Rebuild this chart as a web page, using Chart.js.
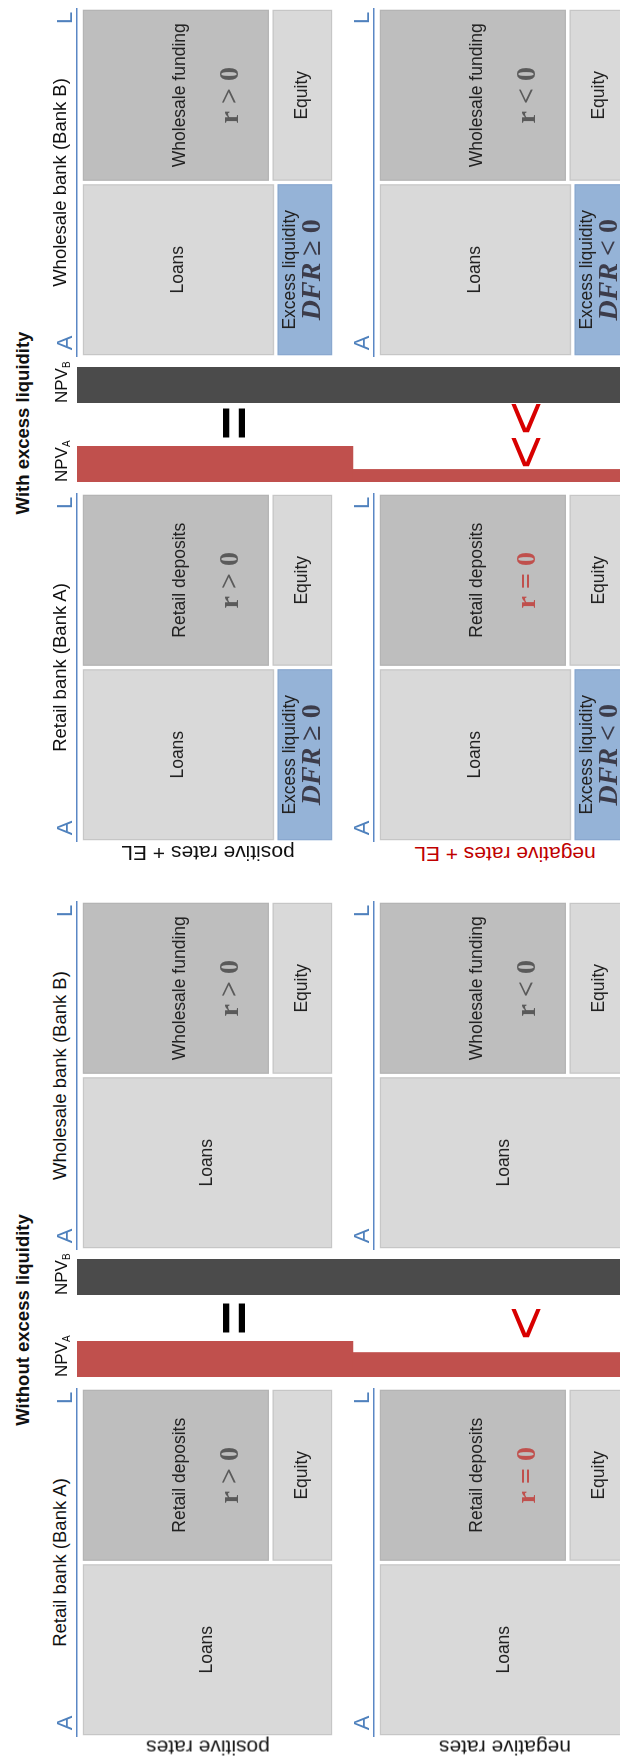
<!DOCTYPE html>
<html lang="en">
<head>
<meta charset="UTF-8">
<title>Bank NPV with and without excess liquidity</title>
<script src="https://cdn.jsdelivr.net/npm/chart.js"></script>
<style>
  html, body { margin: 0; padding: 0; background: #fff; overflow: hidden; }
  body { width: 620px; height: 1763px; position: relative; font-family: "Liberation Sans", Arial, sans-serif; color: #111; }
  /* the figure is laid out landscape and turned a quarter to the left */
  #land { position: absolute; left: 0; top: 0; width: 1763px; height: 640px; transform-origin: 0 0; transform: translateY(1763px) rotate(-90deg); }
  .box { position: absolute; }
  .txt { position: absolute; transform: translate(-50%, -50%); white-space: nowrap; line-height: 1; }
  .txtL { position: absolute; transform: translate(0, -50%); white-space: nowrap; line-height: 1; }
  .title { font-weight: bold; font-size: 18.5px; }
  .bank { font-size: 18.5px; }
  .al { font-size: 22px; color: #4f81bd; }
  .npv { font-size: 17px; }
  .npv sub { font-size: 10px; vertical-align: -3px; }
  .rowlab { font-size: 21px; transform: translate(-50%, -50%) rotate(-90deg); }
  .sign { font-size: 58px; }
</style>
</head>
<body>
<div id="land"></div>

<script>
    // ---- data ----
    const rowNames = ['positive rates', 'negative rates'];
    const rowNamesEL = ['positive rates + EL', 'negative rates + EL'];

    // NPV of bank A (retail) and bank B (wholesale), bar length relative to the positive-rate case
    const npvA_without = [1, 0.68];
    const npvB_without = [1, 1];
    const npvA_with = [1, 0.35];
    const npvB_with = [1, 1];

    // balance sheet shares (% of total)
    const loans_without = [100, 100];
    const loans_with = [77, 77];
    const excessLiquidity = [23, 23];
    const funding = [75, 75];
    const equity = [25, 25];

    const retailRate = ['r > 0', 'r = 0'];
    const wholesaleRate = ['r > 0', 'r < 0'];
    const dfrNote = ['DFR ≥ 0', 'DFR < 0'];
    const signs_without = ['=', '<'];
    const signs_with = ['=', '<<'];

    const colors = {
        loans: '#d9d9d9', equity: '#d9d9d9', funding: '#bebebe', el: '#95b3d7',
        npvA: '#c0504d', npvB: '#4b4b4b', axis: '#5b87c5',
        math: '#5a5a5a', mathRed: '#c0504d', dfr: '#3c3c4a', sign: '#d80000'
    };

    // layout in landscape pixels
    const PAD = 3;
    const rowTop = [77, 374];
    const T_W = 349, T_H = 257;
    const NPV_TOP = 77, NPV_H = 552, NPV_W = 36;
    const signY = [233, 525];

    const panels = [
        { title: 'Without excess liquidity', titleX: 443, withEL: false, rowLabX: 15, rows: rowNames,
          bankA: 26, bankB: 513, npvAX: 386, npvBX: 468, signX: [445, 440],
          npvA: npvA_without, npvB: npvB_without, signs: signs_without },
        { title: 'With excess liquidity', titleX: 1340, withEL: true, rowLabX: 909, rows: rowNamesEL,
          bankA: 921, bankB: 1406, npvAX: 1281, npvBX: 1360, signX: [1340, 1328],
          npvA: npvA_with, npvB: npvB_with, signs: signs_with }
    ];

    const land = document.getElementById('land');

    function addText(cls, html, x, y, color) {
        const d = document.createElement('div');
        d.className = cls;
        d.innerHTML = html;
        d.style.left = x + 'px';
        d.style.top = y + 'px';
        if (color) d.style.color = color;
        land.appendChild(d);
        return d;
    }

    function addCanvas(x, y, w, h) {
        const wrap = document.createElement('div');
        wrap.className = 'box';
        wrap.style.left = x + 'px';
        wrap.style.top = y + 'px';
        wrap.style.width = w + 'px';
        wrap.style.height = h + 'px';
        const c = document.createElement('canvas');
        wrap.appendChild(c);
        land.appendChild(wrap);
        return c;
    }

    function drawMath(ctx, s, cx, cy, color) {
        const m = s.match(/^([A-Za-z]+)(.*)$/);
        const head = m[1], rest = m[2];
        const headFont = (head.length > 1 ? 'italic ' : '') + 'bold 28px "Liberation Serif", "DejaVu Serif", serif';
        const restFont = 'bold 28px "Liberation Serif", "DejaVu Serif", serif';
        ctx.font = headFont;
        const w1 = ctx.measureText(head).width;
        ctx.font = restFont;
        const w2 = ctx.measureText(rest).width;
        let x = cx - (w1 + w2) / 2;
        ctx.fillStyle = color;
        ctx.textAlign = 'left';
        ctx.textBaseline = 'middle';
        ctx.font = headFont;
        ctx.fillText(head, x, cy);
        ctx.font = restFont;
        ctx.fillText(rest, x + w1, cy);
    }

    // outline + names inside each balance sheet block
    const boxText = {
        id: 'boxText',
        afterDatasetsDraw(chart) {
            const ctx = chart.ctx;
            ctx.save();
            chart.data.datasets.forEach((ds, i) => {
                chart.getDatasetMeta(i).data.forEach((bar, j) => {
                    if (ds.data[j] == null) return;
                    const p = bar.getProps(['x', 'y', 'base', 'width'], true);
                    const left = p.x - p.width / 2;
                    const top = Math.min(p.y, p.base);
                    const h = Math.abs(p.y - p.base);
                    ctx.strokeStyle = ds.edgeColor;
                    ctx.lineWidth = 1;
                    ctx.strokeRect(left + 2.5, top + 2.5, p.width - 5, h - 5);
                    const at = ds.textAt || [0.5];
                    ctx.fillStyle = '#222';
                    ctx.font = '17.5px "Liberation Sans", Arial, sans-serif';
                    ctx.textAlign = 'center';
                    ctx.textBaseline = 'middle';
                    ctx.fillText(ds.label, p.x, top + at[0] * h);
                    if (ds.note) drawMath(ctx, ds.note, p.x, top + at[1] * h, ds.noteColor);
                });
            });
            ctx.restore();
        }
    };

    function tAccount(x, row, fundingName, rate, withEL) {
        const canvas = addCanvas(x, rowTop[row] - PAD, T_W, PAD + T_H);
        const datasets = [{
            label: 'Loans',
            data: [withEL ? loans_with[row] : loans_without[row], null],
            backgroundColor: colors.loans, edgeColor: '#c6c6c6'
        }];
        if (withEL) {
            datasets.push({
                label: 'Excess liquidity', data: [excessLiquidity[row], null],
                backgroundColor: colors.el, edgeColor: '#8aa8cf',
                note: dfrNote[row], noteColor: colors.dfr, textAt: [0.25, 0.63]
            });
        }
        datasets.push({
            label: fundingName, data: [null, funding[row]],
            backgroundColor: colors.funding, edgeColor: '#b4b4b4',
            note: rate[row], noteColor: rate[row] === 'r = 0' ? colors.mathRed : colors.math,
            textAt: [0.52, 0.79]
        });
        datasets.push({
            label: 'Equity', data: [null, equity[row]],
            backgroundColor: colors.equity, edgeColor: '#c6c6c6'
        });

        new Chart(canvas, {
            type: 'bar',
            data: { labels: ['A', 'L'], datasets: datasets },
            options: {
                responsive: true,
                maintainAspectRatio: false,
                animation: false,
                events: [],
                layout: { padding: { top: PAD } },
                datasets: {
                    bar: {
                        barPercentage: 1, categoryPercentage: 1,
                        borderWidth: 2, borderColor: '#ffffff', borderSkipped: false
                    }
                },
                scales: {
                    x: {
                        position: 'top', stacked: true,
                        grid: { display: false, drawTicks: false },
                        ticks: { display: false },
                        border: { display: true, color: colors.axis, width: 1.5 }
                    },
                    y: { display: false, stacked: true, reverse: true, min: -1.6, max: 100 }
                },
                plugins: { legend: { display: false }, tooltip: { enabled: false } }
            },
            plugins: [boxText]
        });

        const top = rowTop[row];
        addText('txt al', 'A', x + 14, top - 12);
        addText('txt al', 'L', x + T_W - 10, top - 12);
    }

    function npvBar(x, values, color) {
        const canvas = addCanvas(x, NPV_TOP, NPV_W, NPV_H);
        new Chart(canvas, {
            type: 'bar',
            data: {
                labels: rowNames,
                datasets: [{ data: values, backgroundColor: color, borderWidth: 0, barPercentage: 1, categoryPercentage: 1 }]
            },
            options: {
                indexAxis: 'y',
                responsive: true,
                maintainAspectRatio: false,
                animation: false,
                events: [],
                layout: { padding: 0 },
                scales: {
                    x: { display: false, min: 0, max: 1 },
                    y: { display: false }
                },
                plugins: { legend: { display: false }, tooltip: { enabled: false } }
            }
        });
    }

    panels.forEach(p => {
        addText('txt title', p.title, p.titleX, 23);
        addText('txt bank', 'Retail bank (Bank A)', p.bankA + T_W / 2, 60);
        addText('txt bank', 'Wholesale bank (Bank B)', p.bankB + T_W / 2, 60);

        [0, 1].forEach(row => {
            tAccount(p.bankA, row, 'Retail deposits', retailRate, p.withEL);
            tAccount(p.bankB, row, 'Wholesale funding', wholesaleRate, p.withEL);
            const labColor = (p.withEL && row === 1) ? '#c00000' : '#111';
            addText('txt rowlab', p.rows[row], p.rowLabX, rowTop[row] + 131, labColor);
            const s = p.signs[row];
            addText('txt sign', s.replace(/</g, '&lt;'), p.signX[row], signY[row],
                s === '=' ? '#000' : colors.sign).style.fontWeight = s === '=' ? 'bold' : 'normal';
        });

        npvBar(p.npvAX, p.npvA, colors.npvA);
        npvBar(p.npvBX, p.npvB, colors.npvB);
        addText('txtL npv', 'NPV<sub>A</sub>', p.npvAX, 62);
        addText('txtL npv', 'NPV<sub>B</sub>', p.npvBX, 62);
    });
</script>
</body>
</html>
